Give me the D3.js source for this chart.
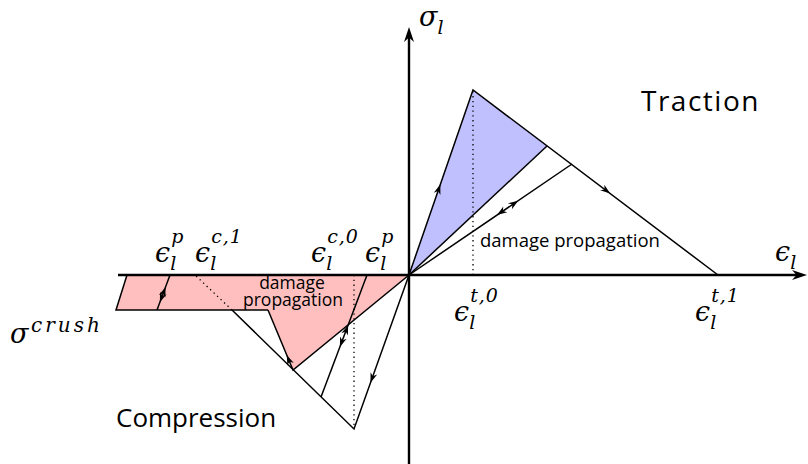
<!DOCTYPE html>
<html>
<head>
<meta charset="utf-8">
<script src="https://cdn.jsdelivr.net/npm/d3@7"></script>
<style>
  body { margin: 0; background: #fff; }
  svg { display: block; }
  .math { font-family: "DejaVu Serif", serif; font-style: italic; fill: #000; }
  .txt { font-family: "Open Sans", sans-serif; fill: #000; }
</style>
</head>
<body>
<svg id="chart"></svg>
<script>
// values (strain, stress) in arbitrary units
const origin = [0, 0];
const tensionPeak = [0.64, 1.85];
const tensionEnd = [3.09, 0];
const tensionUnload = [[1.38, 1.29], [1.63, 1.11]];
const compPeak = [-0.55, -1.54];
const compEnd = [-2.14, 0];
const crushLevel = -0.35;
const crushMeet = [-1.77, crushLevel];
const compUnloadA = [-1.16, -0.95];
const compPlasticA = [-1.41, crushLevel];
const compUnloadB = [-0.88, -1.22];
const epsPRight = -0.42;
const crushLeft = [[-2.82, 0], [-2.93, crushLevel]];
const epsPLeft = [[-2.39, 0], [-2.52, crushLevel]];
const xDomain = [-2.91, 3.98];
const yDomain = [-1.89, 2.75];

const W = 808, H = 464;
const svg = d3.select('#chart').attr('width', W).attr('height', H);

const x = d3.scaleLinear().domain(xDomain).range([118, 807]);
const y = d3.scaleLinear().domain(yDomain).range([464, 0]);
const line = d3.line().x(d => x(d[0])).y(d => y(d[1]));

const pink = '#ffbfbf', blue = '#c0c0ff';

// filled regions
svg.append('path')
  .attr('d', line([crushLeft[0], origin, compUnloadA, compPlasticA, crushLeft[1]]) + 'Z')
  .attr('fill', pink);
svg.append('path')
  .attr('d', line([origin, tensionPeak, tensionUnload[0]]) + 'Z')
  .attr('fill', blue);

// dotted helpers
const dotted = [
  [[tensionPeak[0], 0], tensionPeak],
  [[compPeak[0], 0], compPeak],
  [crushMeet, compEnd]
];
dotted.forEach(seg => {
  svg.append('path').attr('d', line(seg))
    .attr('stroke', '#000').attr('stroke-width', 1.3)
    .attr('stroke-dasharray', '1.3,3.5').attr('fill', 'none');
});

// solid paths
const solid = [
  [origin, tensionPeak, tensionEnd],
  [origin, tensionUnload[0]],
  [origin, tensionUnload[1]],
  [origin, compPeak, crushMeet],
  [origin, compUnloadA, compPlasticA],
  [compUnloadB, [epsPRight, 0]],
  [crushLeft[0], crushLeft[1], compPlasticA],
  epsPLeft
];
solid.forEach(seg => {
  svg.append('path').attr('d', line(seg))
    .attr('stroke', '#000').attr('stroke-width', 1.5)
    .attr('fill', 'none').attr('stroke-linejoin', 'miter');
});

// axes
svg.append('line').attr('x1', x(xDomain[0])).attr('x2', x(xDomain[1]) - 6)
  .attr('y1', y(0)).attr('y2', y(0)).attr('stroke', '#000').attr('stroke-width', 2.4);
svg.append('line').attr('x1', x(0)).attr('x2', x(0))
  .attr('y1', y(yDomain[0])).attr('y2', 34).attr('stroke', '#000').attr('stroke-width', 2.4);

function head(px, py, ang, len, wid) {
  // stealth arrow head, tip at (px,py), pointing to ang
  const c = Math.cos(ang), s = Math.sin(ang);
  const pts = [[0, 0], [-len, wid / 2], [-len * 0.7, 0], [-len, -wid / 2]]
    .map(p => [px + p[0] * c - p[1] * s, py + p[0] * s + p[1] * c]);
  svg.append('path').attr('d', 'M' + pts.join('L') + 'Z').attr('fill', '#000');
}
head(807, y(0), 0, 15, 10);
head(x(0), 27, -Math.PI / 2, 15, 10);

// mid-line arrow heads: segment, fraction along it, direction (1 forward, -1 back)
function midArrow(a, b, t, dir) {
  const ax = x(a[0]), ay = y(a[1]), bx = x(b[0]), by = y(b[1]);
  const px = ax + (bx - ax) * t, py = ay + (by - ay) * t;
  let ang = Math.atan2(by - ay, bx - ax);
  if (dir < 0) ang += Math.PI;
  head(px, py, ang, 10, 7);
}
midArrow(origin, tensionPeak, 0.49, 1);
midArrow(tensionPeak, tensionEnd, 0.56, 1);
midArrow(origin, tensionUnload[1], 0.67, 1);
midArrow(origin, tensionUnload[1], 0.54, -1);
midArrow(origin, compPeak, 0.70, 1);
midArrow(compUnloadA, compPlasticA, 0.25, 1);
midArrow(compUnloadB, [epsPRight, 0], 0.59, 1);
midArrow(compUnloadB, [epsPRight, 0], 0.41, -1);
midArrow(epsPLeft[1], epsPLeft[0], 0.66, 1);
midArrow(epsPLeft[1], epsPLeft[0], 0.22, -1);

// math labels
function mathLabel(bx, by, base, sup, sub, size) {
  const g = svg.append('g');
  const t = g.append('text').attr('class', 'math').attr('x', bx).attr('y', by)
    .style('font-size', size + 'px').text(base);
  const w = t.node().getComputedTextLength();
  if (sup) g.append('text').attr('class', 'math').attr('x', bx + w + 1).attr('y', by - 19)
    .style('font-size', '19px').style('letter-spacing', '1px').text(sup);
  if (sub) g.append('text').attr('class', 'math').attr('x', bx + w).attr('y', by + 8)
    .style('font-size', '19px').text(sub);
}
const eps = '\u03F5';
mathLabel(419, 26, '\u03C3', null, 'l', 27);
mathLabel(775, 261, eps, null, 'l', 27);
mathLabel(155, 262, eps, 'p', 'l', 27);
mathLabel(195, 262, eps, 'c,1', 'l', 27);
mathLabel(311, 262, eps, 'c,0', 'l', 27);
mathLabel(365, 262, eps, 'p', 'l', 27);
mathLabel(454, 321, eps, 't,0', 'l', 27);
mathLabel(695, 321, eps, 't,1', 'l', 27);
mathLabel(10, 343, '\u03C3', null, null, 27);
svg.append('text').attr('class', 'math').attr('x', 31).attr('y', 332)
  .style('font-size', '20px').style('letter-spacing', '3px').text('crush');

// plain text
svg.append('text').attr('class', 'txt').attr('x', 641).attr('y', 111)
  .style('font-size', '28px').style('letter-spacing', '1.5px').text('Traction');
svg.append('text').attr('class', 'txt').attr('x', 116).attr('y', 427)
  .style('font-size', '26px').text('Compression');
svg.append('text').attr('class', 'txt').attr('x', 480).attr('y', 247)
  .style('font-size', '18.5px').text('damage propagation');
svg.append('text').attr('class', 'txt').attr('x', 292).attr('y', 289)
  .attr('text-anchor', 'middle').style('font-size', '17.5px').text('damage');
svg.append('text').attr('class', 'txt').attr('x', 293).attr('y', 306)
  .attr('text-anchor', 'middle').style('font-size', '17.5px').text('propagation');
</script>
</body>
</html>
